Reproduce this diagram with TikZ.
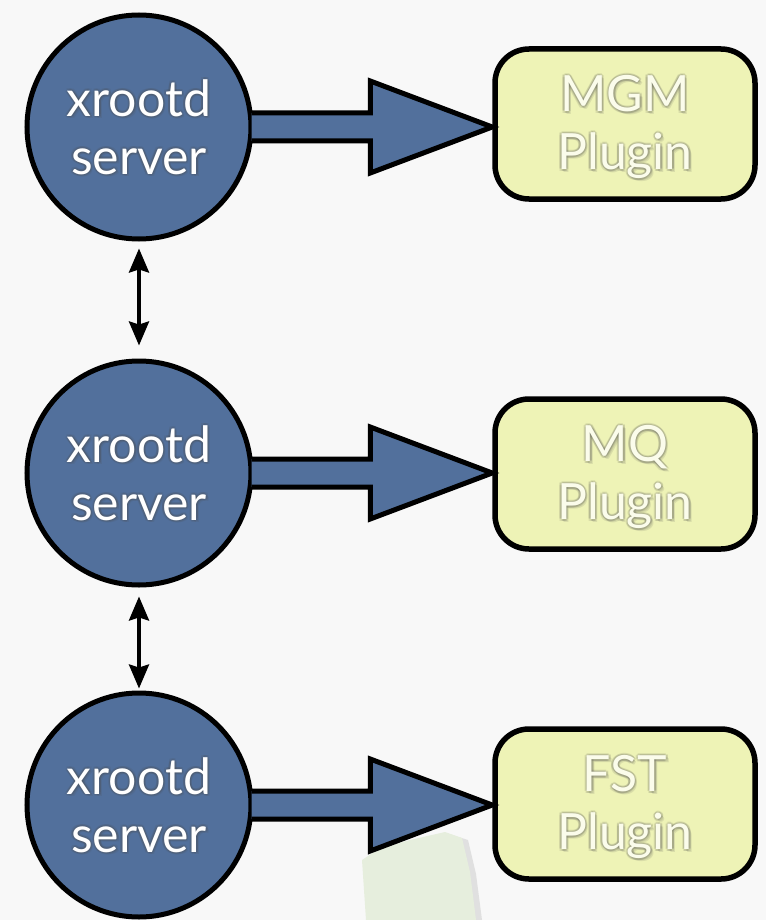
\documentclass[tikz,border=0pt]{standalone}
\usepackage{fontspec}
\setmainfont{Lato}
\usetikzlibrary{arrows.meta,calc,shapes.geometric}
\definecolor{slate}{HTML}{52709C}
\definecolor{paleyellow}{HTML}{EEF3B6}
\definecolor{cream}{HTML}{FBFCEB}
\definecolor{bgwhite}{HTML}{F8F8F8}
\definecolor{sheet}{HTML}{E6EEDD}
\tikzset{
  server/.style={circle, draw=black, line width=5pt, fill=slate,
    minimum size=224pt, inner sep=0pt},
  plugin/.style={rectangle, rounded corners=34pt, draw=black, line width=5.5pt,
    fill=paleyellow, minimum width=260pt, minimum height=150pt, inner sep=0pt},
  txt/.style={align=center, font=\fontsize{50}{58}\selectfont},
  lbl/.style={txt, text=white},
  plbl/.style={txt, text=cream},
  glow/.style={txt, text=black!70, opacity=0.13},
  blockarrow/.style={draw=black, line width=5pt, fill=slate, line join=miter},
  link/.style={line width=3.5pt, {Stealth[length=24pt,width=20pt,inset=3pt]}-{Stealth[length=24pt,width=20pt,inset=3pt]}}
}
% label with a soft dark halo behind it
\newcommand{\haloed}[4]{%
  \foreach \dx/\dy in {2/0,-2/0,0/2,0/-2,1.5/1.5,-1.5/1.5,1.5/-1.5,-1.5/-1.5,2.5/2.5}{
    \node[glow] at ($(#1)+(\dx,\dy)$) {#3};
  }
  \node[#4] (#2) at (#1) {#3};
}
\begin{document}
\begin{tikzpicture}[x=1pt,y=-1pt]
  % canvas
  \fill[bgwhite] (0,0) rectangle (766,920);
  \useasboundingbox (0,0) rectangle (766,920);
  % faint torn sheet near the bottom
  \fill[black!12] (366,862) -- (384,850) -- (414,842) -- (449,834) -- (468,840) -- (476,874) -- (482,920) -- (370,920) -- cycle;
  \fill[sheet] (362,860) -- (380,848) -- (410,840) -- (445,832) -- (462,838) -- (470,872) -- (476,920) -- (366,920) -- cycle;

  % servers
  \node[server] (c1) at (139,127) {};
  \node[server] (c2) at (139,473) {};
  \node[server] (c3) at (139,805) {};
  \haloed{c1}{c1t}{xrootd\\server}{lbl}
  \haloed{c2}{c2t}{xrootd\\server}{lbl}
  \haloed{c3}{c3t}{xrootd\\server}{lbl}

  % plugins
  \node[plugin] (b1) at (625,124) {};
  \node[plugin] (b2) at (625,474) {};
  \node[plugin] (b3) at (625,804) {};
  \coordinate (b1c) at ($(b1)+(0,3)$);
  \coordinate (b2c) at ($(b2)+(0,3)$);
  \coordinate (b3c) at ($(b3)+(0,3)$);
  \haloed{b1c}{b1t}{MGM\\Plugin}{plbl}
  \haloed{b2c}{b2t}{MQ\\Plugin}{plbl}
  \haloed{b3c}{b3t}{FST\\Plugin}{plbl}

  % block arrows from each server to its plugin
  \foreach \s/\t in {c1/b1,c2/b2,c3/b3}{
    \coordinate (S) at ($(\s.east)+(-2,0)$);
    \coordinate (T) at (\t.west);
    \draw[blockarrow] ($(S)+(0,-14)$) -- ($(S -| T)+(-122,-14)$) -- ($(S -| T)+(-122,-46)$)
      -- (S -| T) -- ($(S -| T)+(-122,46)$) -- ($(S -| T)+(-122,14)$) -- ($(S)+(0,14)$);
  }

  % links between servers
  \draw[link, shorten <=7pt, shorten >=13pt] (c1.south) -- (c2.north);
  \draw[link, shorten <=9pt, shorten >=2pt] (c2.south) -- (c3.north);
\end{tikzpicture}
\end{document}
